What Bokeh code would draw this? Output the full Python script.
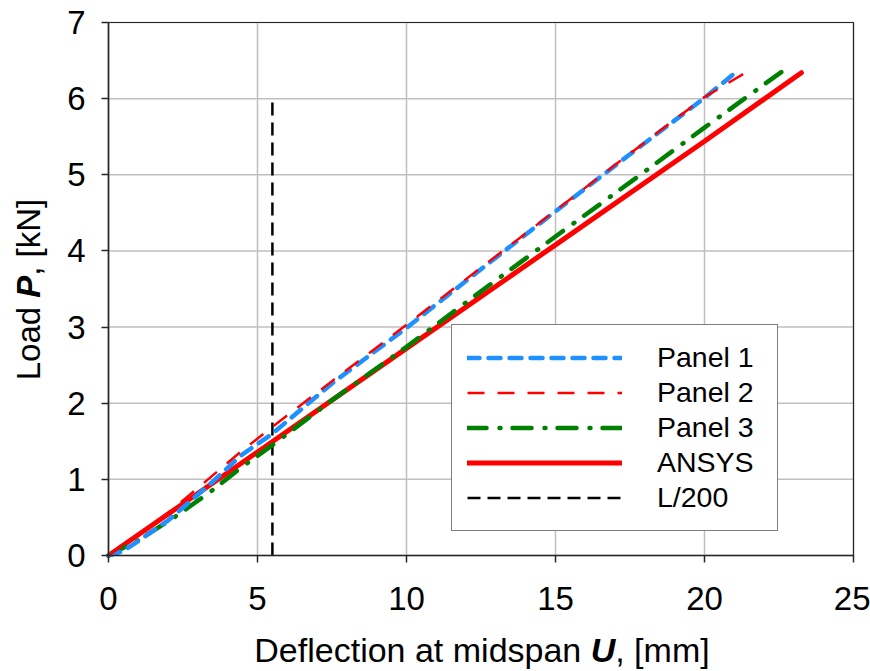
import math
from bokeh.plotting import figure
from bokeh.models import Range1d, Label, Legend, LegendItem, FixedTicker
from bokeh.embed import file_html
from bokeh.resources import INLINE

# ---- data ----
panel1_u = [0, 0.5, 1.0, 2.0, 2.5, 3.5, 4.43, 5.5, 7.5, 10, 12.5, 15, 17.5, 20, 21.0]
panel1_p = [0, 0.06, 0.19, 0.46, 0.63, 0.97, 1.31, 1.60, 2.26, 2.99, 3.76, 4.52, 5.27, 6.01, 6.33]

panel2_u = [0, 1, 2, 2.7, 3.1, 4.43, 5.5, 7.5, 10, 12.5, 15, 17.5, 20, 21.5]
panel2_p = [0, 0.28, 0.56, 0.79, 0.92, 1.36, 1.69, 2.29, 3.03, 3.78, 4.53, 5.28, 6.02, 6.37]

panel3_u = [0, 1, 2.2, 3.0, 3.4, 4.5, 5.5, 7.5, 10, 12.5, 15, 17.5, 20, 22.65]
panel3_p = [0, 0.20, 0.50, 0.72, 0.83, 1.17, 1.45, 2.04, 2.74, 3.47, 4.19, 4.90, 5.62, 6.37]

ansys_u = [0, 5, 10, 15, 20, 23.25]
ansys_p = [0, 1.36, 2.72, 4.08, 5.44, 6.34]

l200_u = [5.5, 5.5]
l200_p = [0, 6.0]

x_ticks = [0, 5, 10, 15, 20, 25]
y_ticks = [0, 1, 2, 3, 4, 5, 6, 7]

FONT = "Liberation Sans"
W, H = 870, 671

# plot area placement inside the canvas (pixels)
PX_LEFT, PX_RIGHT, PX_TOP, PX_BOTTOM = 108, 853, 22, 555
xmin, xmax = x_ticks[0], x_ticks[-1]
ymin, ymax = y_ticks[0], y_ticks[-1]
kx = (PX_RIGHT - PX_LEFT) / (xmax - xmin)
ky = (PX_BOTTOM - PX_TOP) / (ymax - ymin)
x_range = Range1d(xmin - PX_LEFT / kx, xmax + (W - PX_RIGHT) / kx)
y_range = Range1d(ymin - (H - PX_BOTTOM) / ky, ymax + PX_TOP / ky)

p = figure(width=W, height=H, output_backend="svg", toolbar_location=None,
           x_range=x_range, y_range=y_range,
           min_border=0, min_border_left=0, min_border_right=0,
           min_border_top=0, min_border_bottom=0)
p.title.visible = False
p.outline_line_color = None
p.background_fill_color = "white"
p.border_fill_color = "white"
p.grid.visible = False

AX = "#262626"
for ax in (p.xaxis[0], p.yaxis[0]):
    ax.axis_line_color = AX
    ax.axis_line_width = 1.5
    ax.major_tick_line_color = AX
    ax.major_tick_line_width = 1.5
    ax.major_tick_out = 7
    ax.major_tick_in = 0
    ax.minor_tick_line_color = None
    ax.major_label_text_font = FONT
    ax.major_label_text_font_size = "33px"
    ax.major_label_text_color = "black"
p.xaxis.ticker = FixedTicker(ticks=x_ticks)
p.yaxis.ticker = FixedTicker(ticks=y_ticks)
p.xaxis.fixed_location = ymin
p.yaxis.fixed_location = xmin
p.xaxis.bounds = (xmin, xmax)
p.yaxis.bounds = (ymin, ymax)
p.xaxis.major_label_standoff = 24
p.yaxis.major_label_standoff = 16

# grid lines (at tick positions, limited to the plot box)
GRID = "#BFBFBF"
p.segment(x0=x_ticks, y0=[ymin] * len(x_ticks), x1=x_ticks, y1=[ymax] * len(x_ticks),
          line_color=GRID, line_width=1.5)
p.segment(x0=[xmin] * len(y_ticks), y0=y_ticks, x1=[xmax] * len(y_ticks), y1=y_ticks,
          line_color=GRID, line_width=1.5)
# plot-box border
p.quad(left=[xmin], right=[xmax], bottom=[ymin], top=[ymax], fill_color=None,
       line_color=AX, line_width=1.2)

r_l200 = p.line(l200_u, l200_p, line_color="black", line_width=2.5, line_dash="13 7")
r_ansys = p.line(ansys_u, ansys_p, line_color="#FF0000", line_width=5, line_cap="round")
r_p3 = p.line(panel3_u, panel3_p, line_color="#008000", line_width=4.5, line_cap="round",
              line_dash="19 13 1 12")
r_p1 = p.line(panel1_u, panel1_p, line_color="#1E90FF", line_width=4.5, line_cap="round",
              line_dash="12 9")
r_p2 = p.line(panel2_u, panel2_p, line_color="#FF0000", line_width=2.5, line_dash="17 13")

legend = Legend(items=[
    LegendItem(label="Panel 1", renderers=[r_p1]),
    LegendItem(label="Panel 2", renderers=[r_p2]),
    LegendItem(label="Panel 3", renderers=[r_p3]),
    LegendItem(label="ANSYS", renderers=[r_ansys]),
    LegendItem(label="L/200", renderers=[r_l200]),
], location=(451, H - 531))
legend.label_text_font = FONT
legend.label_text_font_size = "28.5px"
legend.label_text_color = "black"
legend.glyph_width = 155
legend.glyph_height = 35
legend.label_height = 35
legend.label_width = 105
legend.label_standoff = 35
legend.padding = 15
legend.spacing = 0
legend.margin = 0
legend.border_line_color = "black"
legend.border_line_width = 1
legend.background_fill_color = "white"
legend.background_fill_alpha = 1
p.add_layout(legend, "center")

# ---- axis titles with mixed styles ----
def sizes(parts, s):
    return [w * s / 1000.0 for w in parts]

# x title: "Deflection at midspan " + "U" (bold italic) + ", [mm]"
sx = 34
w_x = sizes([9893, 722, 2778], sx)
x0 = 481.5 - sum(w_x) / 2
for txt, off, style in [("Deflection at midspan", 0, "normal"),
                        ("U", w_x[0], "bold italic"),
                        (", [mm]", w_x[0] + w_x[1], "normal")]:
    p.add_layout(Label(x=x0 + off, y=H - 649, x_units="screen", y_units="screen", text=txt,
                       text_font=FONT, text_font_size=f"{sx}px", text_font_style=style,
                       text_align="left", text_baseline="alphabetic", text_color="black"))

# y title: "Load " + "P" (bold italic) + ", [kN]"
sy = 33
w_y = sizes([2502, 667, 2334], sy)
y0 = (H - 289) - sum(w_y) / 2
for txt, off, style in [("Load", 0, "normal"),
                        ("P", w_y[0], "bold italic"),
                        (", [kN]", w_y[0] + w_y[1], "normal")]:
    p.add_layout(Label(x=28, y=y0 + off, x_units="screen", y_units="screen", text=txt,
                       angle=math.pi / 2,
                       text_font=FONT, text_font_size=f"{sy}px", text_font_style=style,
                       text_align="left", text_baseline="alphabetic", text_color="black"))

open("out.html", "w").write(file_html(p, INLINE))
